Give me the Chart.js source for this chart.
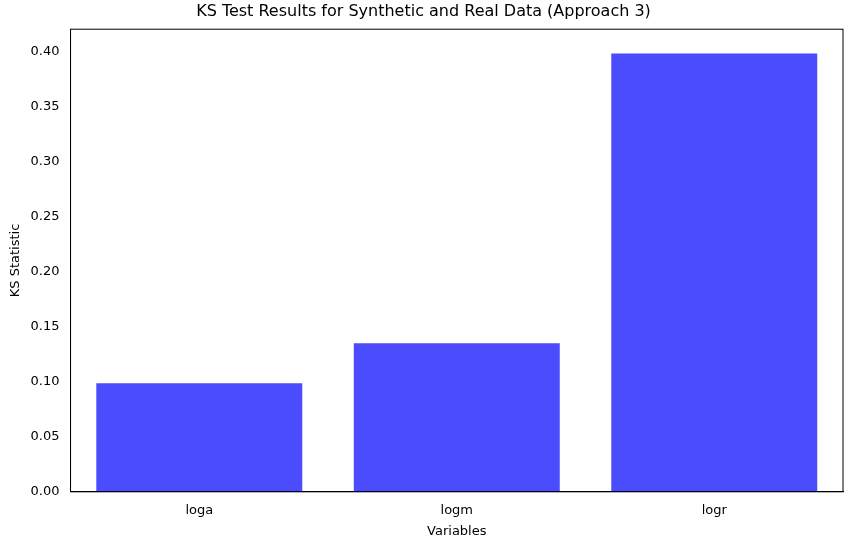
<!DOCTYPE html>
<html><head><meta charset="utf-8">
<script src="https://cdn.jsdelivr.net/npm/chart.js@4/dist/chart.umd.min.js"></script>
<style>html,body{margin:0;padding:0;background:#fff}#w{width:855px;height:547px}</style>
</head><body><div id="w"><canvas id="c"></canvas></div>
<script>
const categories = ["loga", "logm", "logr"];
const ksValues = [0.0985, 0.1348, 0.398];
const yTicks = [0, 0.05, 0.1, 0.15, 0.2, 0.25, 0.3, 0.35, 0.4];
const F = "'DejaVu Sans', sans-serif";
new Chart(document.getElementById('c'), {
  type: 'bar',
  data: { labels: categories, datasets: [{ data: ksValues, backgroundColor: 'rgba(0,0,255,0.7)', barPercentage: 0.8, categoryPercentage: 1.0 }] },
  options: {
    responsive: true, maintainAspectRatio: false, animation: false,
    layout: { padding: { left: 4, right: 12, top: 0, bottom: 4 } },
    plugins: {
      legend: { display: false }, tooltip: { enabled: false },
      title: { display: true, text: 'KS Test Results for Synthetic and Real Data (Approach 3)', color: '#000', font: { family: F, size: 16, weight: 'normal' }, padding: { top: 2, bottom: 8 } }
    },
    scales: {
      x: {
        grid: { display: false, drawTicks: true }, border: { color: '#000' },
        ticks: { color: '#000', font: { family: F, size: 13 } },
        title: { display: true, text: 'Variables', color: '#000', font: { family: F, size: 13 }, padding: { top: 2 } }
      },
      y: {
        min: 0, max: 0.42, afterBuildTicks: ax => { ax.ticks = yTicks.map(v => ({ value: v })); },
        grid: { display: false }, border: { color: '#000' },
        ticks: { color: '#000', font: { family: F, size: 13 }, callback: v => v.toFixed(2) },
        title: { display: true, text: 'KS Statistic', color: '#000', font: { family: F, size: 13 } }
      }
    }
  },
  plugins: [{ id: 'frame', afterDraw(ch) { const a = ch.chartArea, x = ch.ctx; x.save(); x.strokeStyle = '#000'; x.lineWidth = 1; x.strokeRect(a.left, a.top, a.right - a.left, a.bottom - a.top); x.restore(); } }]
});
</script></body></html>
